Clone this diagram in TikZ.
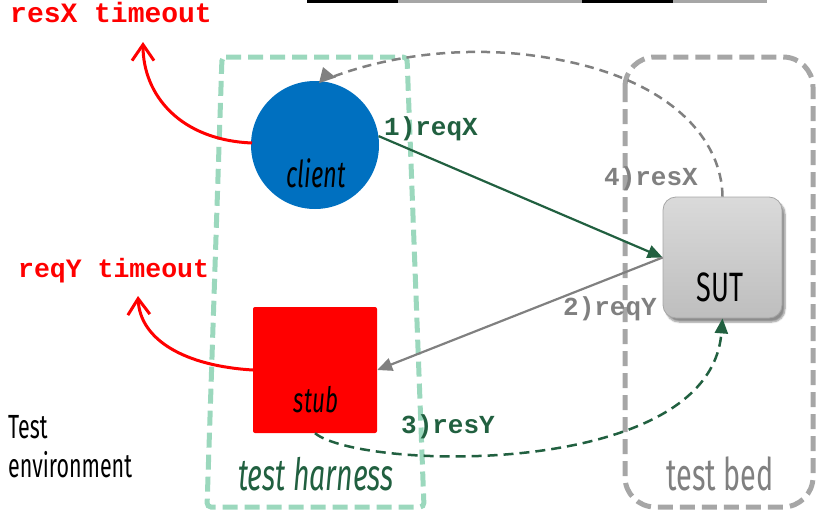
\documentclass[tikz,border=0pt]{standalone}
\usepackage{fontspec}
\usetikzlibrary{arrows.meta,shadows.blur}
\newfontfamily\cond{Fira Sans}[FakeStretch=0.64]
\newfontfamily\condreg{Fira Sans}[FakeStretch=0.66]
\newfontfamily\monof{Liberation Mono}
\definecolor{clientblue}{RGB}{0,112,192}
\definecolor{harnessgreen}{RGB}{155,216,189}
\definecolor{darkgreen}{RGB}{33,96,64}
\definecolor{bedgray}{RGB}{166,166,166}
\definecolor{midgray}{RGB}{128,128,128}
\definecolor{sutlight}{RGB}{218,218,218}
\definecolor{sutdark}{RGB}{190,190,190}
\tikzset{
  steplbl/.style={font=\monof\bfseries\fontsize{26}{26}\selectfont, anchor=base, inner sep=0},
  timeoutlbl/.style={font=\monof\bfseries\fontsize{27}{27}\selectfont, text=red, anchor=base west, inner sep=0},
  harnessline/.style={draw=harnessgreen, line width=5, dash pattern=on 15 off 7, rounded corners=4},
  bedline/.style={draw=bedgray, line width=5, dash pattern=on 15 off 7, rounded corners=30},
  timeoutarrow/.style={draw=red, line width=3, -{Straight Barb[length=16,width=22]}},
  greenarrow/.style={draw=darkgreen, line width=2.2, -{Triangle[length=15,width=13]}},
  grayarrow/.style={draw=midgray, line width=2.2, -{Triangle[length=15,width=13]}},
}
\begin{document}
\begin{tikzpicture}[x=1pt,y=-1pt]
\useasboundingbox (0,0) rectangle (817,514);
% top bar
\fill[black] (307,0) rectangle (398,3);
\fill[bedgray] (398,0) rectangle (582,3);
\fill[black] (582,0) rectangle (673,3);
\fill[bedgray] (673,0) rectangle (767,3);
% containers
\draw[harnessline] (222,57) -- (407,57) -- (424,507) -- (207,507) -- cycle;
\draw[bedline] (625,57) rectangle (813,507);
\node[font=\cond\itshape\fontsize{44.5}{44.5}\selectfont, text=darkgreen, anchor=base] (harnesslbl) at (316,490) {test harness};
\node[font=\cond\fontsize{45}{45}\selectfont, text=midgray, anchor=base] (bedlbl) at (720,490) {test bed};
% nodes
\node[circle, fill=clientblue, minimum size=128, inner sep=0] (client) at (315,145) {};
\node[font=\cond\itshape\fontsize{37}{37}\selectfont, anchor=base] (clientlbl) at (316,187) {client};
\node[fill=red, rounded corners=2, minimum width=124, minimum height=126, inner sep=0] (stub) at (315,370) {};
\node[font=\cond\itshape\fontsize{35}{35}\selectfont, anchor=base] (stublbl) at (316,412) {stub};
\node[rounded corners=13, draw=bedgray, line width=0.8, top color=sutlight, bottom color=sutdark, minimum width=119, minimum height=121, inner sep=0,
      blur shadow={shadow xshift=3pt, shadow yshift=-4pt, shadow blur steps=6, shadow opacity=45}] (sut) at (722.5,257.5) {};
\node[font=\condreg\fontsize{41}{41}\selectfont, anchor=base] (sutlbl) at (720,301) {SUT};
% labels
\node[timeoutlbl, font=\monof\bfseries\fontsize{28}{28}\selectfont] (resxto) at (10,22) {resX timeout};
\node[timeoutlbl, font=\monof\bfseries\fontsize{26.5}{26.5}\selectfont] (reqyto) at (18,277) {reqY timeout};
\node[font=\cond\fontsize{33.5}{39}\selectfont, align=left, anchor=base west, inner sep=0] (testenv) at (8,477) {Test\\environment};
\node[steplbl, text=darkgreen] (l1) at (431,135) {1)reqX};
\node[steplbl, text=midgray] (l2) at (610,315) {2)reqY};
\node[steplbl, text=darkgreen] (l3) at (448,433) {3)resY};
\node[steplbl, text=midgray] (l4) at (651,185) {4)resX};
% coordinates
\coordinate (c1) at (252,143);
\coordinate (t1) at (143,42);
\coordinate (c2) at (253,370);
\coordinate (t2) at (138,296);
\coordinate (cend) at (327,79);
\coordinate (ctip) at (323,67);
% connectors
\draw[greenarrow] (client.8) -- (sut.west);
\draw[grayarrow] (sut.west) -- (stub.east);
\draw[darkgreen, line width=2.5, dash pattern=on 10 off 6, -{Triangle[length=15,width=13]}]
  (stub.south) .. controls (360,470) and (710,480) .. (sut.south);
\draw[midgray, line width=2.5, dash pattern=on 9 off 6]
  (sut.north) .. controls (722,140) and (670,70) .. (520,54)
  .. controls (450,47) and (380,58) .. (cend);
\draw[midgray, line width=2.5, -{Triangle[length=14,width=17]}] (cend) -- (ctip);
\draw[timeoutarrow] (c1) .. controls (180,140) and (143,95) .. (t1);
\draw[timeoutarrow] (c2) .. controls (185,366) and (140,340) .. (t2);
\end{tikzpicture}
\end{document}
